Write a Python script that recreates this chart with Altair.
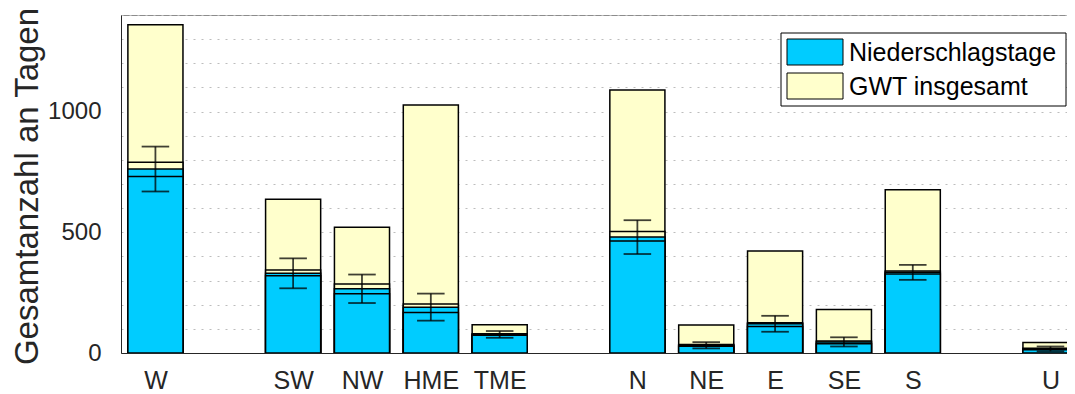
import altair as alt
import pandas as pd

# ---- data ----
categories = ["W", "SW", "NW", "HME", "TME", "N", "NE", "E", "SE", "S", "U"]
slots = [1, 3, 4, 5, 6, 8, 9, 10, 11, 12, 14]          # category slot (gaps between groups)
gwt_total = [1360, 637, 521, 1027, 117, 1089, 116, 422, 180, 676, 43]
gwt_ref = [790, 344, 286, 203, 80, 503, 35, 125, 50, 340, 20]
nied_mean = [762, 330, 266, 190, 77, 480, 32, 121, 46, 334, 17]
nied_obs = [731, 320, 245, 168, 74, 464, 28, 110, 38, 327, 13]
nied_err = [93, 62, 59, 56, 14, 70, 13, 33, 19, 31, 10]
series_names = ["Niederschlagstage", "GWT insgesamt"]

BLUE = "#00CCFF"
YELLOW = "#FFFFCC"
FONT = "Liberation Sans"
TXT = "#262626"

df = pd.DataFrame({
    "cat": categories, "slot": slots, "total": gwt_total, "ref": gwt_ref,
    "mean": nied_mean, "obs": nied_obs, "err": nied_err,
})

label_list = [""] * 15
for c, s in zip(categories, slots):
    label_list[s] = c
label_expr = "[" + ",".join("'%s'" % l for l in label_list) + "][datum.value]"

xscale = alt.Scale(domain=[0.5, 14.24], nice=False, zero=False)
yscale = alt.Scale(domain=[0, 1400], nice=False)

xaxis = alt.Axis(values=slots, labelExpr=label_expr, grid=False, ticks=False,
                 labelFontSize=25, labelFont=FONT, labelColor=TXT, labelPadding=15,
                 labelOverlap=False, labelFlush=False, domainColor=TXT, domainWidth=1,
                 title=None)
yaxis = alt.Axis(values=list(range(0, 1401, 100)), format="d",
                 labelExpr="datum.value % 500 === 0 ? datum.label : ''",
                 grid=True, gridDash=[2, 6], gridColor="#bdbdbd", gridWidth=1.2,
                 ticks=False, labelFontSize=24, labelFont=FONT, labelColor=TXT,
                 labelPadding=20, domainColor=TXT, domainWidth=1,
                 title="Gesamtanzahl an Tagen", titleFont=FONT, titleFontSize=33,
                 titleFontWeight="normal", titleColor=TXT, titleAngle=270,
                 titleX=-94, titleY=171, titleAlign="center", titleBaseline="middle")

base = alt.Chart(df).transform_calculate(
    x0="datum.slot - 0.4", x1="datum.slot + 0.4",
    c0="datum.slot - 0.2", c1="datum.slot + 0.2",
    lo="datum.mean - datum.err", hi="datum.mean + datum.err", zero="0",
)


def bar(field, color):
    return base.mark_rect(fill=color, stroke="black", strokeWidth=1.5, clip=True).encode(
        x=alt.X("x0:Q", scale=xscale, axis=xaxis),
        x2="x1:Q",
        y=alt.Y(field + ":Q", scale=yscale, axis=yaxis),
        y2="zero:Q",
    )


bars = [bar("total", YELLOW), bar("ref", YELLOW), bar("mean", BLUE), bar("obs", BLUE)]

err_style = dict(color="black", opacity=0.75, strokeWidth=1.8)
err_v = base.mark_rule(**err_style).encode(
    x=alt.X("slot:Q", scale=xscale, axis=xaxis),
    y=alt.Y("lo:Q", scale=yscale, axis=yaxis), y2="hi:Q")
cap_lo = base.mark_rule(**err_style).encode(
    x=alt.X("c0:Q", scale=xscale, axis=xaxis), x2="c1:Q",
    y=alt.Y("lo:Q", scale=yscale, axis=yaxis))
cap_hi = base.mark_rule(**err_style).encode(
    x=alt.X("c0:Q", scale=xscale, axis=xaxis), x2="c1:Q",
    y=alt.Y("hi:Q", scale=yscale, axis=yaxis))

# ---- legend ----
one = pd.DataFrame({"a": [0]})
legend_box = alt.Chart(one).mark_rect(fill="white", stroke="black", strokeWidth=1).encode(
    x=alt.value(660), x2=alt.value(945), y=alt.value(18), y2=alt.value(91))
legend_layers = [legend_box]
for i, (name, col) in enumerate(zip(series_names, [BLUE, YELLOW])):
    y0 = 24 + i * 34
    legend_layers.append(
        alt.Chart(pd.DataFrame({"label": [name]})).mark_rect(
            fill=col, stroke="black", strokeWidth=1).encode(
            x=alt.value(666), x2=alt.value(722), y=alt.value(y0), y2=alt.value(y0 + 26)))
    legend_layers.append(
        alt.Chart(pd.DataFrame({"label": [name]})).mark_text(
            align="left", baseline="middle", font=FONT, fontSize=25, color="black").encode(
            x=alt.value(728), y=alt.value(y0 + 14), text="label:N"))

chart = alt.layer(*bars, err_v, cap_lo, cap_hi, *legend_layers).properties(
    width=946, height=338,
    autosize=alt.AutoSizeParams(type="none"),
    padding={"left": 113, "top": 7, "right": 0, "bottom": 40},
    background="white",
).configure_view(stroke="#8c8c8c", strokeWidth=1)

chart.save("out.html", embed_options={"renderer": "svg", "actions": False})
